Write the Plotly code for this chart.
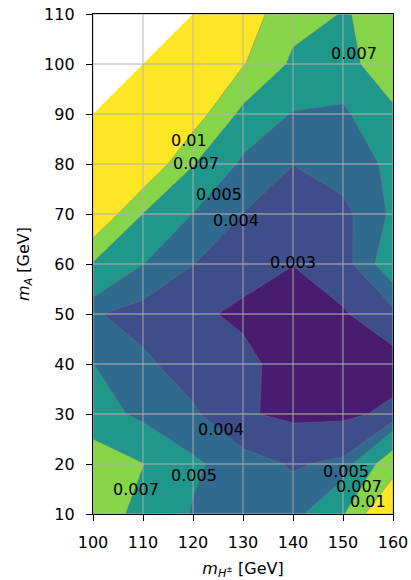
import plotly.graph_objects as go

# ---- data ----
m_Hpm = [100, 110, 120, 130, 140, 150, 160]          # x grid [GeV]
m_A = [10, 20, 30, 40, 50, 60, 70, 80, 90, 100, 110]  # y grid [GeV]
nan = None
# one row per m_A value (ascending), one column per m_Hpm value
z_mA10 = [0.0085, 0.0062, 0.0049, 0.0043, 0.0045, 0.0068, 0.0140]
z_mA20 = [0.0082, 0.00705, 0.0052, 0.0044, 0.0039, 0.0042, 0.0085]
z_mA30 = [0.0058, 0.0046, 0.00416, 0.0031, 0.0028, 0.0028, 0.0032]
z_mA40 = [0.00502, 0.0042, 0.0035, 0.0033, 0.0025, 0.0024, 0.0026]
z_mA50 = [0.0041, 0.0036, 0.0032, 0.0028, 0.0025, 0.0029, 0.0037]
z_mA60 = [0.0068, 0.00502, 0.00402, 0.0034, 0.00302, 0.00355, 0.00582]
z_mA70 = [0.0130, 0.00698, 0.00497, 0.00399, 0.0036, 0.0037, 0.0052]
z_mA80 = [0.0150, 0.0129, 0.0071, 0.00469, 0.00401, 0.0045, 0.0052]
z_mA90 = [0.0150, 0.0140, 0.0116, 0.00625, 0.0049, 0.0047, 0.0066]
z_mA100 = [nan, 0.0140, 0.0130, 0.0102, 0.0065, 0.0062, 0.0085]
z_mA110 = [nan, nan, 0.0130, 0.0116, 0.0080, 0.0069, 0.0075]
z = [z_mA10, z_mA20, z_mA30, z_mA40, z_mA50, z_mA60,
     z_mA70, z_mA80, z_mA90, z_mA100, z_mA110]

levels = [0.003, 0.004, 0.005, 0.007, 0.01]
level_labels = ["0.007", "0.01", "0.007", "0.005", "0.004", "0.003",
                "0.004", "0.005", "0.007", "0.005", "0.007", "0.01"]
label_x = [152.2, 119.1, 120.6, 125.1, 128.6, 139.9, 125.6, 120.2, 108.6, 150.6, 153.2, 154.9]
label_y = [102.1, 84.8, 80.2, 73.9, 68.8, 60.3, 26.9, 17.7, 14.9, 18.5, 15.5, 12.5]

# viridis colours of the filled bands (<0.003, 0.003-4, 4-5, 5-7, 7-10, >0.01)
band_colors = ["#481c6e", "#3e4e8a", "#306a8e", "#1f978b", "#86d549", "#fde725"]

# ---- filled contour: uniform 0.001 steps, colours stepwise per real band ----
step = 0.001
start, end = levels[0], levels[-1]
n_lev = round((end - start) / step) + 1
lo, hi = start - step / 2, end + step / 2


def band_index(v):
    k = 0
    for lv in levels:
        if v > lv:
            k += 1
    return k


mids = [start - step / 2 + i * step for i in range(n_lev + 1)]
cs = []
prev = None
for mval in mids:
    c = band_colors[band_index(mval)]
    s = (mval - lo) / (hi - lo)
    if prev is None:
        cs.append([0.0, c])
    elif c != prev:
        edge = s - 0.5 * step / (hi - lo)
        cs.append([edge, prev])
        cs.append([edge, c])
    prev = c
cs.append([1.0, prev])

fig = go.Figure()
fig.add_trace(go.Contour(
    x=m_Hpm, y=m_A, z=z,
    autocontour=False,
    contours=dict(start=start, end=end, size=step, coloring="fill", showlines=False),
    colorscale=cs, showscale=False,
    line=dict(width=0, smoothing=0),
    hoverinfo="skip",
))

seam = dict(color="rgba(120,120,120,0.5)", width=0.8, smoothing=0)
fig.add_trace(go.Contour(
    x=m_Hpm, y=m_A, z=z, autocontour=False,
    contours=dict(start=levels[0], end=levels[2], size=levels[1] - levels[0], coloring="none"),
    line=seam, showscale=False, hoverinfo="skip",
))
fig.add_trace(go.Contour(
    x=m_Hpm, y=m_A, z=z, autocontour=False,
    contours=dict(start=levels[3], end=levels[4], size=levels[4] - levels[3], coloring="none"),
    line=seam, showscale=False, hoverinfo="skip",
))

# ---- white region where no data exist (top-left), from the NaN pattern ----
col0 = [row[0] for row in z]
left_top_y = max(m_A[j] for j in range(len(m_A)) if col0[j] is not None)
top_row = z[-1]
top_left_x = min(m_Hpm[i] for i in range(len(m_Hpm)) if top_row[i] is not None)
mask_x = [m_Hpm[0], top_left_x, m_Hpm[0], m_Hpm[0]]
mask_y = [left_top_y, m_A[-1], m_A[-1], left_top_y]
fig.add_trace(go.Scatter(
    x=mask_x, y=mask_y, mode="lines", fill="toself", fillcolor="white",
    line=dict(width=0, color="white"), hoverinfo="skip", showlegend=False,
))

# ---- grid on top of the fills ----
grid_style = dict(color="rgba(176,176,176,0.7)", width=1.3)
shapes = []
for xv in m_Hpm:
    shapes.append(dict(type="line", xref="x", yref="y domain", x0=xv, x1=xv,
                       y0=0, y1=1, line=grid_style, layer="above"))
for yv in m_A:
    shapes.append(dict(type="line", xref="x domain", yref="y", x0=0, x1=1,
                       y0=yv, y1=yv, line=grid_style, layer="above"))

annotations = []
for t, xv, yv in zip(level_labels, label_x, label_y):
    annotations.append(dict(x=xv, y=yv, xref="x", yref="y", text=t, showarrow=False,
                            xanchor="center", yanchor="middle",
                            font=dict(family="DejaVu Sans", size=16, color="black")))

axis_common = dict(showgrid=False, zeroline=False, showline=True, mirror=True,
                   linecolor="black", linewidth=1.3, ticks="outside", ticklen=6,
                   tickwidth=1.3, tickcolor="black", ticklabelstandoff=8,
                   tickfont=dict(family="DejaVu Sans", size=16, color="black"))

fig.update_layout(
    width=411, height=580,
    margin=dict(l=93, r=18, t=14, b=66),
    paper_bgcolor="white", plot_bgcolor="white",
    showlegend=False,
    shapes=shapes,
    annotations=annotations,
    font=dict(family="DejaVu Sans", size=16, color="black"),
    xaxis=dict(range=[m_Hpm[0], m_Hpm[-1]], tickvals=m_Hpm,
               title=dict(text="<i>m</i><sub><i>H</i><sup>±</sup></sub> [GeV]",
                          standoff=12, font=dict(family="DejaVu Sans", size=16)),
               automargin=False, **axis_common),
    yaxis=dict(range=[m_A[0], m_A[-1]], tickvals=m_A,
               title=dict(text="<i>m</i><sub><i>A</i></sub> [GeV]",
                          standoff=10, font=dict(family="DejaVu Sans", size=16)),
               automargin=False, **axis_common),
)

fig.write_html("out.html", config={"displayModeBar": False},
               post_script="document.body.style.margin='0';")
